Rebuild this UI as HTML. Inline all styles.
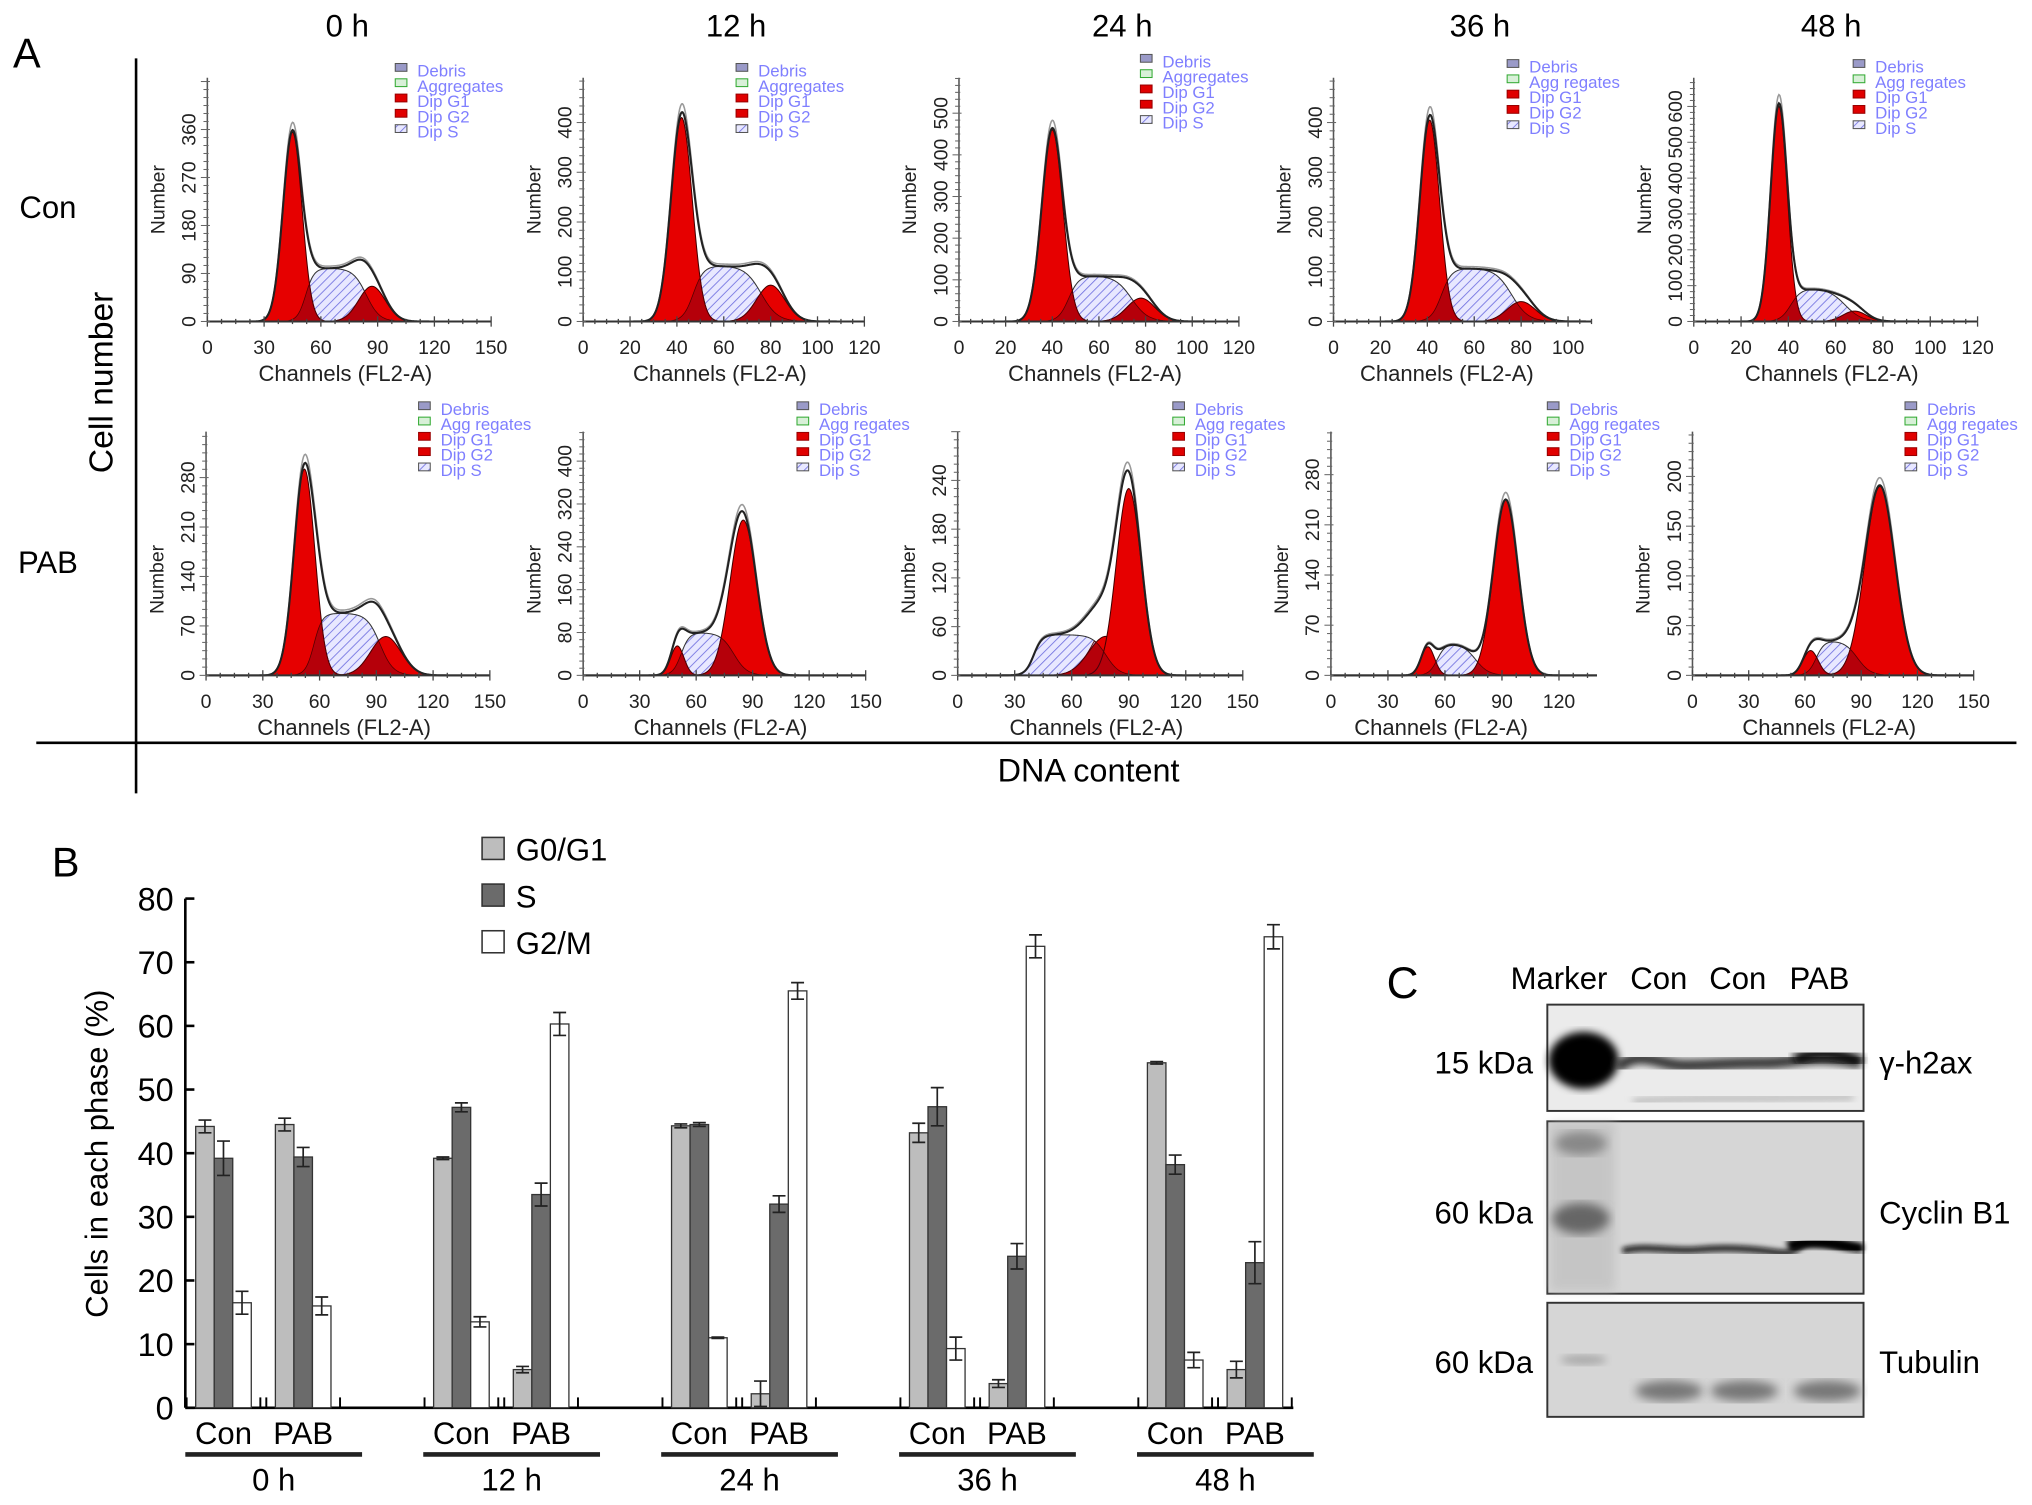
<!DOCTYPE html>
<html><head><meta charset="utf-8"><title>Cell cycle figure</title>
<style>
html,body{margin:0;padding:0;background:#fff;}
svg{display:block;font-family:"Liberation Sans",Arial,sans-serif;}
</style></head>
<body>
<svg id="fig" xmlns="http://www.w3.org/2000/svg" width="2032" height="1505" viewBox="0 0 1568 1161" preserveAspectRatio="none">
<defs>
<pattern id="hatch" patternUnits="userSpaceOnUse" width="5" height="5" patternTransform="rotate(45)">
<rect width="5" height="5" fill="#e8e8ff"/><line x1="0" y1="0" x2="0" y2="5" stroke="#7070e0" stroke-width="1.3"/>
</pattern>
<filter id="blur2"><feGaussianBlur stdDeviation="2"/></filter>
<filter id="blur3"><feGaussianBlur stdDeviation="3"/></filter>
<filter id="blur4"><feGaussianBlur stdDeviation="4"/></filter>
</defs>
<g id="panelA"></g>
<g id="panelB"></g>
<g id="panelC"></g>
</svg>
<script>
// ---------- Panel A data (histogram fits) ----------
const rowLabels = ["Con", "PAB"];
const timeLabels = ["0 h", "12 h", "24 h", "36 h", "48 h"];
const xMaxUnits = [150,120,120,100,120, 150,150,150,120,150];
const xTickStep = [30,20,20,20,20, 30,30,30,30,30];
const axisEndUnits = [150,120,120,110,120, 150,150,150,140,150];
const yTickStep = [90,100,100,100,100, 70,80,60,70,50];
const yTickMax = [360,400,500,400,600, 280,400,240,280,200];
const yUnitsPerAxis = [457,490,585,490,680, 345,455,300,340,245];
const g1Mean = [45,42,40,41,36, 52,50,78,51,63];
const g1Sd = [5,4.5,4.5,4.2,3.5, 5.5,3.5,9,3.5,4];
const g1H = [355,410,460,405,600, 292,55,48,40,25];
const sStart = [52,47,47,46,41, 57,52,40,56,66];
const sEnd = [84,76,74,76,64, 92,80,78,76,88];
const sH = [100,112,110,107,92, 88,80,50,45,35];
const g2Mean = [87,80,78,80,68, 95,85,90,92,100];
const g2Sd = [7,6,6,6,5, 8,7,6.5,6.5,8];
const g2H = [66,73,56,40,29, 55,290,230,245,190];
const legendAgg = ["Aggregates","Aggregates","Aggregates","Agg regates","Agg regates","Agg regates","Agg regates","Agg regates","Agg regates","Agg regates"];

// ---------- Panel B data ----------
const groups = ["0 h","12 h","24 h","36 h","48 h"];
const treatments = ["Con","PAB"];
const phases = ["G0/G1","S","G2/M"];
const g0g1Vals = [44.2,44.5, 39.2,6.0, 44.3,2.2, 43.2,3.8, 54.2,6.0];
const g0g1Err  = [1.0,1.0, 0.2,0.5, 0.3,2.0, 1.5,0.6, 0.2,1.3];
const sVals    = [39.2,39.4, 47.2,33.5, 44.5,32.0, 47.3,23.8, 38.2,22.8];
const sErr     = [2.7,1.5, 0.7,1.8, 0.3,1.3, 3.0,2.0, 1.5,3.3];
const g2mVals  = [16.5,16.0, 13.5,60.3, 11.0,65.5, 9.3,72.5, 7.5,74.0];
const g2mErr   = [1.8,1.4, 0.8,1.8, 0.1,1.3, 1.8,1.8, 1.2,1.9];
const yTicksB = [0,10,20,30,40,50,60,70,80];

const NS = "http://www.w3.org/2000/svg";
function mk(tag, attrs, parent, text){
  const e = document.createElementNS(NS, tag);
  for (const k in attrs) e.setAttribute(k, attrs[k]);
  if (text !== undefined) e.textContent = text;
  parent.appendChild(e);
  return e;
}
const A = document.getElementById("panelA");
const B = document.getElementById("panelB");
const C = document.getElementById("panelC");

let t = mk("text",{x:10,y:52,"font-size":32},A,"A");


const colTitleX = [268,568,866,1142,1413];
timeLabels.forEach((s,i)=>{
  const e = mk("text",{x:colTitleX[i],y:28,"font-size":24,"text-anchor":"middle"},A,s);
  
  
});
const rowY = [168,442];
rowLabels.forEach((s,i)=>{
  const e = mk("text",{x:37,y:rowY[i],"font-size":24,"text-anchor":"middle"},A,s);
  
  
});
t = mk("text",{x:0,y:0,"font-size":26,"text-anchor":"middle",transform:"translate(87,295) rotate(-90)"},A,"Cell number");


t = mk("text",{x:840,y:603,"font-size":25,"text-anchor":"middle"},A,"DNA content");


let ln = mk("line",{x1:105,y1:45,x2:105,y2:612,stroke:"#000","stroke-width":2},A);


ln = mk("line",{x1:28,y1:573,x2:1556,y2:573,stroke:"#000","stroke-width":2},A);



const px0 = [160,450,740,1029,1307, 159,450,739,1027,1306];
const pxEnd = [379,667,956,1210,1526, 378,668,959,1203,1523];
const legPos = [[322,56],[585,56],[897,49],[1180,53],[1447,53],[340,317],[632,317],[922,317],[1211,317],[1487,317]];
const legColors = [["#9a9ac8","#555"],["#d8f0d8","#3a3"],["#e00000","#900"],["#e00000","#900"],["url(#hatch)","#555"]];

function gauss(x,m,s,h){return h*Math.exp(-0.5*((x-m)/s)*((x-m)/s));}
function sig(z){return 1/(1+Math.exp(-z));}

for (let p=0;p<10;p++){
  const row = p<5?0:1;
  const base = row===0?248:521;
  const top = row===0?60:333;
  const x0 = px0[p];
  const sx = (pxEnd[p]-x0)/xMaxUnits[p];
  const sy = (base-top)/yUnitsPerAxis[p];
  const X = u=>x0+u*sx;
  const Y = v=>base-v*sy;
  const g = mk("g",{},A);
  
  

  const G1 = u=>gauss(u,g1Mean[p],g1Sd[p],g1H[p]);
  const G2 = u=>gauss(u,g2Mean[p],g2Sd[p],g2H[p]);
  const S = u=>sH[p]*sig((u-sStart[p])/2.2)*sig((sEnd[p]-u)/3.5);
  const N=300, lo=0, hi=axisEndUnits[p];
  function areaPath(f){
    let d="M"+X(lo)+","+Y(0);
    for(let i=0;i<=N;i++){const u=lo+(hi-lo)*i/N; d+=" L"+X(u).toFixed(2)+","+Y(f(u)).toFixed(2);}
    return d+" L"+X(hi)+","+Y(0)+" Z";
  }
  function linePath(f){
    let d="";
    for(let i=0;i<=N;i++){const u=lo+(hi-lo)*i/N; d+=(i?" L":"M")+X(u).toFixed(2)+","+Y(f(u)).toFixed(2);}
    return d;
  }
  let e = mk("path",{d:areaPath(S),fill:"url(#hatch)",stroke:"#333","stroke-width":0.8},g);
  
  
  e = mk("path",{d:areaPath(G1),fill:"#e60000",stroke:"#400","stroke-width":0.8},g);
  
  
  e = mk("path",{d:areaPath(G2),fill:"#e60000",stroke:"#400","stroke-width":0.8},g);
  
  
  e = mk("path",{d:areaPath(u=>Math.min(S(u),G1(u)+G2(u))),fill:"rgba(90,0,30,0.35)",stroke:"#500","stroke-width":0.6},g);
  
  
  e = mk("path",{d:linePath(u=>(G1(u)+G2(u)+S(u))*1.04),fill:"none",stroke:"#999","stroke-width":1.2},g);
  
  
  e = mk("path",{d:linePath(u=>G1(u)+G2(u)+S(u)),fill:"none",stroke:"#222","stroke-width":1.6},g);
  
  

  e = mk("line",{x1:x0,y1:base,x2:X(axisEndUnits[p]),y2:base,stroke:"#333","stroke-width":1.5},g);
  
  
  e = mk("line",{x1:x0,y1:base,x2:x0,y2:top,stroke:"#555","stroke-width":1.2},g);
  
  
  for(let u=0;u<=axisEndUnits[p];u+=xTickStep[p]/4){
    const major = Math.abs(u%xTickStep[p])<1e-6;
    const tk = mk("line",{x1:X(u),y1:base-(major?4:2),x2:X(u),y2:base+(major?4:2),stroke:"#444","stroke-width":1},g);
    
    
  }
  for(let u=0;u<=xMaxUnits[p];u+=xTickStep[p]){
    const tl = mk("text",{x:X(u),y:base+25,"font-size":15,"text-anchor":"middle",fill:"#222"},g,String(u));
    
    
  }
  const ystepMinor = yTickStep[p]/6;
  for(let v=0;v<=yUnitsPerAxis[p];v+=ystepMinor){
    const major = Math.abs((v/yTickStep[p])-Math.round(v/yTickStep[p]))<1e-6;
    const tk = mk("line",{x1:x0-(major?5:3),y1:Y(v),x2:x0+(major?2:1),y2:Y(v),stroke:"#666","stroke-width":0.8},g);
    
    
  }
  for(let v=0;v<=yTickMax[p];v+=yTickStep[p]){
    const tl = mk("text",{x:0,y:0,"font-size":15,"text-anchor":"middle",fill:"#222",transform:"translate("+(x0-9)+","+Y(v)+") rotate(-90)"},g,String(v));
    
    
  }
  const yc = (base+top)/2 + 10;
  e = mk("text",{x:0,y:0,"font-size":15,"text-anchor":"middle",fill:"#222",transform:"translate("+(x0-33)+","+(row===0?yc-10:yc+10)+") rotate(-90)"},g,"Number");
  
  
  e = mk("text",{x:(x0+pxEnd[p])/2-3,y:base+46,"font-size":17,"text-anchor":"middle",fill:"#222"},g,"Channels (FL2-A)");
  
  

  const [lx,ly] = legPos[p];
  const lnames = ["Debris",legendAgg[p],"Dip G1","Dip G2","Dip S"];
  lnames.forEach((nm,k)=>{
    const bx = mk("rect",{x:lx-17,y:ly-7+k*11.8,width:9,height:6,fill:legColors[k][0],stroke:legColors[k][1],"stroke-width":0.8},g);
    
    
    const lt = mk("text",{x:lx,y:ly+3+k*11.8,"font-size":13,fill:"#7f7fff"},g,nm);
    
    
  });
}

// ---------- Panel B ----------
const yB = v=>1086 - v*4.91;
const groupStep = 183.6, treatOff = 61.5, barW = 14.3, bx0 = 151;
t = mk("text",{x:40,y:676,"font-size":32},B,"B");


let ax = mk("line",{x1:143,y1:yB(80),x2:143,y2:yB(0),stroke:"#000","stroke-width":2},B);


ax = mk("line",{x1:143,y1:yB(0),x2:998,y2:yB(0),stroke:"#000","stroke-width":2},B);


yTicksB.forEach(v=>{
  const tk = mk("line",{x1:143,y1:yB(v),x2:150,y2:yB(v),stroke:"#000","stroke-width":2},B);
  
  
  const tl = mk("text",{x:134,y:yB(v)+9,"font-size":25,"text-anchor":"end"},B,String(v));
  
  
});
t = mk("text",{x:0,y:0,"font-size":24,"text-anchor":"middle",transform:"translate(83,890) rotate(-90)"},B,"Cells in each phase (%)");


const fills = ["#bdbdbd","#6b6b6b","#ffffff"];
phases.forEach((ph,k)=>{
  const sw = mk("rect",{x:372,y:646+k*36,width:17,height:17,fill:fills[k],stroke:"#333","stroke-width":1.2},B);
  
  
  const lt = mk("text",{x:398,y:664+k*36,"font-size":24},B,ph);
  
  
});
const valsArr = [g0g1Vals,sVals,g2mVals], errArr = [g0g1Err,sErr,g2mErr];
groups.forEach((gname,gi)=>{
  treatments.forEach((tr,ti)=>{
    const idx = gi*2+ti;
    const start = bx0 + gi*groupStep + ti*treatOff;
    const tk1 = mk("line",{x1:start-7,y1:yB(0),x2:start-7,y2:yB(0)-8,stroke:"#000","stroke-width":1.5},B);
    
    
    const tk2 = mk("line",{x1:start+3*barW+7,y1:yB(0),x2:start+3*barW+7,y2:yB(0)-8,stroke:"#000","stroke-width":1.5},B);
    
    
    phases.forEach((ph,k)=>{
      const v = valsArr[k][idx], er = errArr[k][idx];
      const x = start + k*barW;
      const r = mk("rect",{x:x,y:yB(v),width:barW,height:yB(0)-yB(v),fill:fills[k],stroke:"#333","stroke-width":1},B);
      
      
      const cx = x+barW/2;
      const eb = mk("path",{d:"M"+cx+","+yB(v-er)+" V"+yB(v+er)+" M"+(cx-5)+","+yB(v+er)+" H"+(cx+5)+" M"+(cx-5)+","+yB(v-er)+" H"+(cx+5),stroke:"#222","stroke-width":1.3,fill:"none"},B);
      
      
    });
    const lab = mk("text",{x:start+1.5*barW,y:1114,"font-size":24,"text-anchor":"middle"},B,tr);
    
    
  });
  const gs = bx0 + gi*groupStep;
  const ul = mk("line",{x1:gs-8,y1:1122,x2:gs+treatOff+3*barW+24,y2:1122,stroke:"#222","stroke-width":3.5},B);
  
  
  const gl = mk("text",{x:gs+(treatOff+3*barW)/2+8,y:1150,"font-size":24,"text-anchor":"middle"},B,gname);
  
  
});

// ---------- Panel C (western blot) ----------
t = mk("text",{x:1070,y:770,"font-size":34},C,"C");


const laneNames = ["Marker","Con","Con","PAB"];
const laneX = [1203,1280,1341,1404];
laneNames.forEach((s,i)=>{
  const e = mk("text",{x:laneX[i],y:763,"font-size":24,"text-anchor":"middle"},C,s);
  
  
});
const blots = [[775,857,"15 kDa","γ-h2ax"],[865,998,"60 kDa","Cyclin B1"],[1005,1093,"60 kDa","Tubulin"]];
const labY = [828,944,1059];
blots.forEach((b,i)=>{
  const g = mk("g",{},C);
  
  
  const r = mk("rect",{x:1194,y:b[0],width:244,height:b[1]-b[0],fill:i===0?"#ebebeb":"#d6d6d6",stroke:"#333","stroke-width":1.5},g);
  
  
  const l1 = mk("text",{x:1183,y:labY[i],"font-size":24,"text-anchor":"end"},g,b[2]);
  
  
  const l2 = mk("text",{x:1450,y:labY[i],"font-size":24},g,b[3]);
  
  
});
function band(parent, d, attrs, name){
  const e = mk(d.tag, attrs, parent);
  
  
  return e;
}
band(C,{tag:"ellipse"},{cx:1222,cy:818,rx:27,ry:22,fill:"#000",filter:"url(#blur3)"},'marker-band');
band(C,{tag:"path"},{d:"M1248,824 C1265,808 1280,822 1300,822 S1330,820 1360,820 S1395,812 1436,820",stroke:"#333","stroke-width":9,fill:"none",filter:"url(#blur3)"},'gamma-h2ax-band');
band(C,{tag:"path"},{d:"M1385,818 C1400,810 1420,812 1436,820",stroke:"#111","stroke-width":10,fill:"none",filter:"url(#blur3)"},'gamma-h2ax-band-pab');
band(C,{tag:"path"},{d:"M1260,850 C1300,846 1380,848 1430,846",stroke:"#aaa","stroke-width":4,fill:"none",filter:"url(#blur3)"},'faint-lower-band');
band(C,{tag:"rect"},{x:1196,y:866,width:50,height:130,fill:"#bbb",filter:"url(#blur4)",opacity:0.6},'marker-lane');
band(C,{tag:"ellipse"},{cx:1220,cy:882,rx:20,ry:9,fill:"#888",filter:"url(#blur4)"},'marker-band');
band(C,{tag:"ellipse"},{cx:1220,cy:940,rx:22,ry:12,fill:"#666",filter:"url(#blur4)"},'marker-band');
band(C,{tag:"path"},{d:"M1252,965 C1270,960 1290,966 1310,964 S1350,963 1370,966 S1385,958 1400,958 S1425,964 1437,964",stroke:"#111","stroke-width":4.5,fill:"none",filter:"url(#blur2)"},'cyclin-b1-band');
band(C,{tag:"path"},{d:"M1380,962 C1395,954 1420,960 1437,964",stroke:"#000","stroke-width":9,fill:"none",filter:"url(#blur2)"},'cyclin-b1-band-pab');
band(C,{tag:"ellipse"},{cx:1222,cy:1049,rx:18,ry:4,fill:"#aaa",filter:"url(#blur3)"},'marker-band');
[1288,1346,1410].forEach(x=>{
  const e = mk("ellipse",{cx:x,cy:1073,rx:26,ry:8,fill:"#777",filter:"url(#blur4)"},C);
  
  
});
</script>
</body></html>
